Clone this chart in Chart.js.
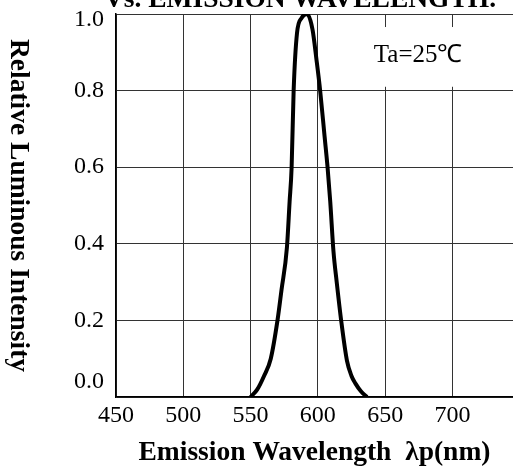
<!DOCTYPE html>
<html>
<head>
<meta charset="utf-8">
<script src="https://cdn.jsdelivr.net/npm/chart.js@4/dist/chart.umd.min.js"></script>
<style>
  html, body { margin: 0; padding: 0; background: #fff; }
  #wrap { width: 513px; height: 467px; position: relative; }
</style>
</head>
<body>
<div id="wrap"><canvas id="c"></canvas></div>
<script>
// wavelength (nm) and relative luminous intensity
const wavelengths = [550, 555, 560, 565, 570, 573, 577, 579, 580.5, 582, 584.5, 588, 592, 596, 599, 601.7, 605, 607.2, 609.2, 611.6, 614, 617.3, 621.6, 625, 628, 632, 636.5]
const intensity   = [0, 0.02, 0.055, 0.10, 0.20, 0.28, 0.39, 0.51, 0.60, 0.80, 0.95, 0.99, 1.0, 0.96, 0.88, 0.80, 0.68, 0.60, 0.51, 0.38, 0.30, 0.20, 0.095, 0.055, 0.035, 0.015, 0]
const xTicks = [450, 500, 550, 600, 650, 700]
const xRange = [450, 745]
const yRange = [0, 1]

const SERIF = "'Liberation Serif', 'Times New Roman', serif"

const extras = {
  id: 'extras',
  beforeDatasetsDraw(chart) {
    const { ctx, scales: { x, y } } = chart
    // label box that hides the grid behind "Ta=25℃"
    const x0 = x.getPixelForValue(639), x1 = x.getPixelForValue(710)
    const y0 = y.getPixelForValue(0.966), y1 = y.getPixelForValue(0.81)
    ctx.save()
    ctx.fillStyle = '#fff'
    ctx.fillRect(x0, y0, x1 - x0, y1 - y0)
    ctx.fillStyle = '#000'
    ctx.font = `25px ${SERIF}`
    ctx.textAlign = 'center'
    ctx.textBaseline = 'middle'
    ctx.fillText('Ta=25℃', x.getPixelForValue(674.5), y.getPixelForValue(0.893))
    ctx.restore()
  },
  afterDraw(chart) {
    const { ctx, chartArea: a } = chart
    ctx.save()
    ctx.fillStyle = '#000'
    ctx.font = `bold 27.5px ${SERIF}`
    ctx.textAlign = 'center'
    // y title reads top to bottom
    ctx.translate(18, (a.top + a.bottom) / 2)
    ctx.rotate(Math.PI / 2)
    ctx.textBaseline = 'middle'
    ctx.fillText('Relative Luminous Intensity', 0, 0)
    ctx.restore()
    // second line of the page title, cut off at the top
    ctx.save()
    ctx.fillStyle = '#000'
    ctx.font = `bold 27.5px ${SERIF}`
    ctx.textAlign = 'center'
    ctx.textBaseline = 'alphabetic'
    ctx.fillText('Vs. EMISSION WAVELENGTH.', 300, 7)
    ctx.restore()
  },
}

new Chart(document.getElementById('c'), {
  type: 'scatter',
  data: {
    datasets: [{
      data: wavelengths.map((w, i) => ({ x: w, y: intensity[i] })),
      showLine: true, borderColor: '#000', borderWidth: 4,
      pointRadius: 0, cubicInterpolationMode: 'monotone', fill: false,
    }],
  },
  options: {
    responsive: true, maintainAspectRatio: false, animation: false,
    layout: { padding: { top: 14, right: 0, bottom: 0, left: 0 } },
    plugins: { legend: { display: false }, tooltip: { enabled: false } },
    scales: {
      x: {
        type: 'linear', min: xRange[0], max: xRange[1],
        afterBuildTicks: s => { s.ticks = xTicks.map(v => ({ value: v })) },
        afterFit: s => { s.height = 70; s.paddingLeft = 0; s.paddingRight = 0 },
        grid: { color: '#333', lineWidth: 1, drawTicks: false },
        border: { color: '#000', width: 1.5 },
        ticks: { color: '#000', padding: 4, font: { family: SERIF, size: 24 } },
        title: {
          display: true, text: 'Emission Wavelength  λp(nm)', color: '#000',
          font: { family: SERIF, size: 27.5, weight: 'bold', lineHeight: 1 }, padding: { top: 0, bottom: 0 },
        },
      },
      y: {
        min: yRange[0], max: yRange[1],
        afterFit: s => { s.width = 116; s.paddingTop = 0; s.paddingBottom = 0 },
        grid: { color: '#333', lineWidth: 1, drawTicks: false },
        border: { color: '#000', width: 1.5 },
        ticks: {
          stepSize: 0.2, color: '#000', padding: 12,
          font: c => ({
            family: SERIF, size: 24,
            lineHeight: c.tick && c.tick.value === 0 ? '30px' : c.tick && c.tick.value === 1 ? '12px' : 1.2,
          }),
          callback: v => v === 0 ? ['0.0', ''] : v === 1 ? ['', '1.0'] : v.toFixed(1),
        },
      },
    },
  },
  plugins: [extras],
})
</script>
</body>
</html>
